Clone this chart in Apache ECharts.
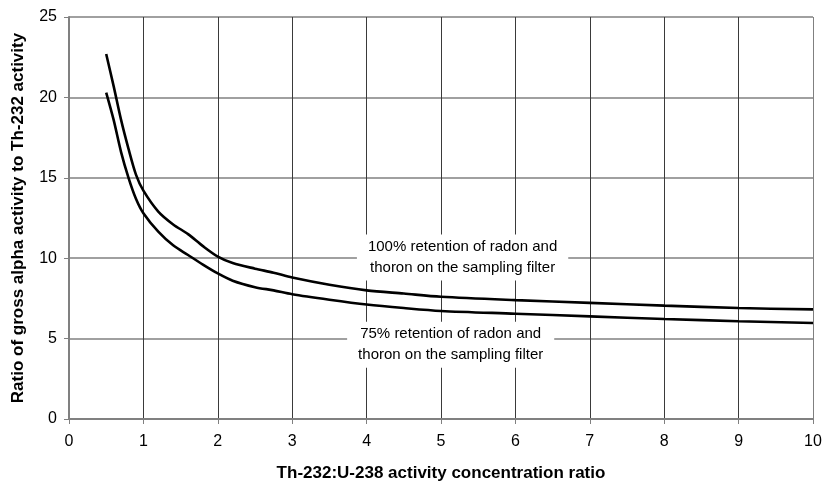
<!DOCTYPE html>
<html>
<head>
<meta charset="utf-8">
<script src="https://cdn.jsdelivr.net/npm/echarts@6/dist/echarts.min.js"></script>
<style>
  html, body { margin: 0; padding: 0; background: #fff; }
  #chart { width: 825px; height: 488px; }
</style>
</head>
<body>
<div id="chart"></div>
<script>
// Th-232:U-238 ratio vs gross alpha / Th-232 ratio, two retention cases
const ratios = [0.5, 0.6, 0.7, 0.8, 0.9, 1, 1.2, 1.4, 1.6, 1.8, 2, 2.2, 2.5, 2.75, 3, 3.5, 4, 4.5, 5, 6, 7, 8, 9, 10];
const retention100 = [22.7, 20.7, 18.6, 16.8, 15.2, 14.2, 12.9, 12.1, 11.5, 10.75, 10.1, 9.7, 9.35, 9.1, 8.8, 8.35, 8.0, 7.8, 7.6, 7.39, 7.22, 7.05, 6.9, 6.82];
const retention75 = [20.3, 18.6, 16.6, 15.0, 13.7, 12.8, 11.65, 10.8, 10.2, 9.6, 9.05, 8.6, 8.2, 8.0, 7.76, 7.42, 7.12, 6.9, 6.72, 6.55, 6.38, 6.22, 6.08, 5.97];

const label100 = '100% retention of radon and\nthoron on the sampling filter';
const label75 = '75% retention of radon and\nthoron on the sampling filter';

const FONT = '"Liberation Sans", Arial, sans-serif';
const GRAY = '#808080';

// vertical gridlines: dark inside, gray at the frame edges
const vColors = Array.from({ length: 11 }, (_, i) => (i === 0 || i === 10) ? GRAY : '#3a3a3a');

function pairs(ys) { return ratios.map((x, i) => [x, ys[i]]); }

const chart = echarts.init(document.getElementById('chart'));
chart.setOption({
  animation: false,
  grid: { left: 69, right: 12, top: 17, bottom: 69, show: false, outerBoundsMode: 'none', containLabel: false },
  xAxis: {
    type: 'value',
    min: 0, max: 10, interval: 1,
    name: 'Th-232:U-238 activity concentration ratio',
    nameLocation: 'middle',
    nameGap: 46,
    nameTextStyle: { fontFamily: FONT, fontSize: 17, fontWeight: 'bold', color: '#000' },
    axisLine: { show: true, lineStyle: { color: GRAY, width: 2 } },
    axisTick: { show: true, length: 5, lineStyle: { color: GRAY, width: 1 } },
    axisLabel: { fontFamily: FONT, fontSize: 16, color: '#000', margin: 15 },
    splitLine: { show: true, lineStyle: { color: vColors, width: 1 } },
  },
  yAxis: {
    type: 'value',
    min: 0, max: 25, interval: 5,
    name: 'Ratio of gross alpha activity to Th-232 activity',
    nameLocation: 'middle',
    nameGap: 42,
    nameTextStyle: { fontFamily: FONT, fontSize: 17, fontWeight: 'bold', color: '#000' },
    axisLine: { show: true, lineStyle: { color: GRAY, width: 2 } },
    axisTick: { show: true, length: 5, lineStyle: { color: GRAY, width: 1 } },
    axisLabel: { fontFamily: FONT, fontSize: 16, color: '#000', margin: 12 },
    splitLine: { show: true, lineStyle: { color: GRAY, width: 1.5 } },
  },
  series: [
    {
      name: '100%',
      type: 'line',
      data: pairs(retention100),
      smooth: 0.3,
      symbol: 'none',
      lineStyle: { color: '#000', width: 2.6 },
      z: 5,
    },
    {
      name: '75%',
      type: 'line',
      data: pairs(retention75),
      smooth: 0.3,
      symbol: 'none',
      lineStyle: { color: '#000', width: 2.6 },
      z: 5,
    },
  ],
});

// text annotations placed at data coordinates, on white boxes
function note(text, x, y) {
  const [px, py] = chart.convertToPixel({ gridIndex: 0 }, [x, y]);
  return {
    type: 'text',
    x: px, y: py, z: 10,
    style: {
      text, fontFamily: FONT, fontSize: 15, lineHeight: 21,
      fill: '#000', align: 'center', verticalAlign: 'middle',
      backgroundColor: '#fff', padding: [2, 11],
    },
  };
}
chart.setOption({
  graphic: [
    note(label100, 5.29, 10.04),
    note(label75, 5.13, 4.62),
  ],
});
</script>
</body>
</html>
